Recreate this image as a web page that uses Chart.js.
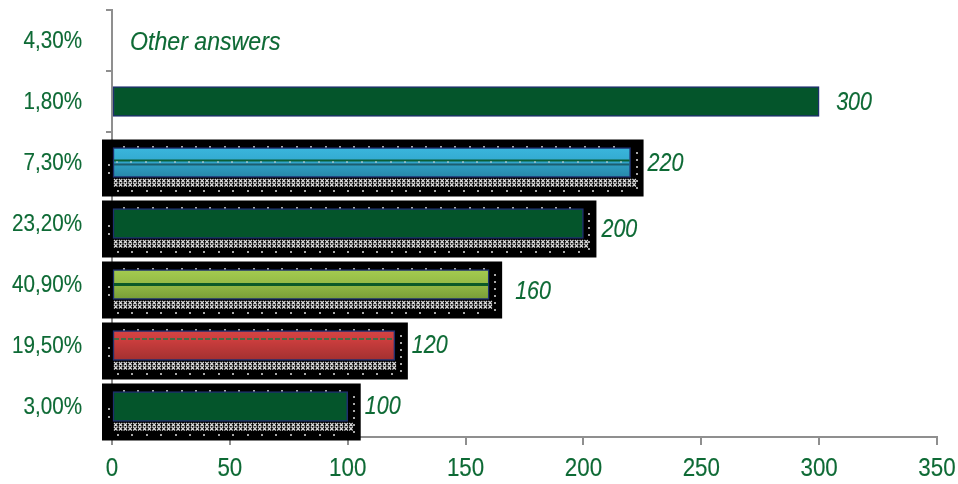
<!DOCTYPE html>
<html>
<head>
<meta charset="utf-8">
<script src="https://cdn.jsdelivr.net/npm/chart.js@4"></script>
<style>
  html, body { margin: 0; padding: 0; background: #ffffff; }
  #wrap { width: 958px; height: 484px; }
</style>
</head>
<body>
<div id="wrap"><canvas id="answers"></canvas></div>
<script>
// answer shares (category axis) and number of answers per share
const categories = ['4,30%', '1,80%', '7,30%', '23,20%', '40,90%', '19,50%', '3,00%'];
const answerCounts = [null, 300, 220, 200, 160, 120, 100];
const otherAnswersText = 'Other answers';
const xMin = 0;
const xMax = 350;
const xStep = 50;

// look of each bar
const barFills = ['green', 'green', 'cyan', 'green', 'lime', 'red', 'green'];
const shadowed = [false, false, true, true, true, true, true];
// small nudges [dx, dy] for the value labels
const labelNudge = [[0, 2], [0, 2], [0, 2], [1, 7], [9, 8], [0, 1], [0, 1]];

const textGreen = '#0e6a35';
const axisGrey = '#8f8f8f';
const baseFont = '"Liberation Sans", Arial, sans-serif';

// condensed text: regular sans squeezed horizontally
function narrowText(c, text, x, y, px, italic, align, squeeze) {
  c.save();
  c.font = (italic ? 'italic ' : '') + px + 'px ' + baseFont;
  c.fillStyle = textGreen;
  c.strokeStyle = textGreen;
  c.lineWidth = 0.15;
  c.textAlign = align;
  c.textBaseline = 'middle';
  c.translate(x, y);
  c.scale(squeeze || 0.86, 1);
  c.fillText(text, 0, 0);
  c.strokeText(text, 0, 0);
  c.restore();
}

function barFill(ctx) {
  const i = ctx.dataIndex;
  if (i === undefined) return '#04552b';
  const kind = barFills[i];
  if (kind === 'green') return '#04552b';
  const chart = ctx.chart;
  const yScale = chart.scales.y;
  if (!yScale) return '#04552b';
  const y = yScale.getPixelForValue(i);
  const g = chart.ctx.createLinearGradient(0, y - 15, 0, y + 15);
  if (kind === 'cyan') {
    g.addColorStop(0, '#3ab6dc');
    g.addColorStop(0.45, '#33aad0');
    g.addColorStop(0.55, '#2f9fc4');
    g.addColorStop(1, '#2787a8');
  } else if (kind === 'lime') {
    g.addColorStop(0, '#a4cb50');
    g.addColorStop(0.5, '#93b945');
    g.addColorStop(1, '#779c37');
  } else {
    g.addColorStop(0, '#d44444');
    g.addColorStop(0.3, '#cc3e3e');
    g.addColorStop(1, '#a23030');
  }
  return g;
}

function dotRow(c, x0, x1, y, step) {
  for (let x = x0; x <= x1; x += step) c.fillRect(Math.round(x), Math.round(y), 2, 2);
}

// black drop boxes with the dotted / crossed texture, stripes and labels
const decorPlugin = {
  id: 'barDecor',
  beforeDatasetsDraw(chart) {
    const c = chart.ctx;
    const meta = chart.getDatasetMeta(0);
    meta.data.forEach((bar, i) => {
      if (!shadowed[i] || answerCounts[i] == null) return;
      const base = bar.base;
      const right = bar.x;
      const top = bar.y - bar.height / 2;
      const bottom = bar.y + bar.height / 2;
      c.save();
      c.fillStyle = '#000000';
      c.fillRect(base - 11, bar.y - 23, right - base + 24, 57);

      c.fillStyle = '#a8a8a8';
      dotRow(c, base + 10, right - 6, top - 2, 14.4);
      dotRow(c, base + 4, right - 2, bottom + 12, 14.4);
      for (let y = bar.y + 1; y <= bottom + 2; y += 8.5) c.fillRect(base - 5, Math.round(y), 2, 2);
      for (let y = top + 4; y <= bottom + 10; y += 7) c.fillRect(Math.round(right + 5), Math.round(y), 2, 2);

      // band of little crosses under the bar
      c.strokeStyle = '#d8d8d8';
      c.lineWidth = 1.2;
      c.beginPath();
      for (let row = 0; row < 2; row++) {
        const y0 = bottom + 1.5 + row * 4;
        for (let x = base + 1; x <= right + 2; x += 4.8) {
          c.moveTo(x, y0); c.lineTo(x + 3.5, y0 + 3.5);
          c.moveTo(x + 3.5, y0); c.lineTo(x, y0 + 3.5);
        }
      }
      c.stroke();
      c.restore();
    });
  },
  afterDatasetsDraw(chart) {
    const c = chart.ctx;
    const meta = chart.getDatasetMeta(0);
    c.save();
    meta.data.forEach((bar, i) => {
      const value = answerCounts[i];
      if (value == null) return;
      const base = bar.base + 1;
      const right = bar.x - 1;
      const kind = barFills[i];
      // middle stripes
      if (kind === 'cyan') {
        c.fillStyle = '#0b5e36';
        c.fillRect(base, bar.y - 3, right - base, 2);
        c.fillStyle = '#1d5e70';
        c.fillRect(base, bar.y + 1, right - base, 2);
        c.fillStyle = '#d9d9d9';
        for (let x = base + 2; x < right; x += 14.4) c.fillRect(Math.round(x), bar.y - 1, 2, 1);
      } else if (kind === 'lime') {
        c.fillStyle = '#0b5a28';
        c.fillRect(base, bar.y - 1.5, right - base, 3);
      } else if (kind === 'red') {
        c.strokeStyle = '#1f7a45';
        c.lineWidth = 1.5;
        c.setLineDash([5, 2]);
        c.beginPath();
        c.moveTo(base, bar.y - 6.5);
        c.lineTo(right, bar.y - 6.5);
        c.stroke();
        c.setLineDash([]);
      }
      const [dx, dy] = labelNudge[i];
      narrowText(c, String(value), bar.x + 17 + dx, bar.y + dy, 25, true, 'left', 0.86);
    });
    const y0 = chart.scales.y.getPixelForValue(0);
    narrowText(c, otherAnswersText, chart.scales.x.getPixelForValue(xMin) + 18, y0 + 2, 26, true, 'left', 0.89);
    c.restore();
  },
  afterDraw(chart) {
    const c = chart.ctx;
    const ys = chart.scales.y;
    const xs = chart.scales.x;
    ys.ticks.forEach((t, i) => {
      narrowText(c, categories[i], ys.right - 30, ys.getPixelForTick(i) + 1, 24, false, 'right', 0.86);
    });
    xs.ticks.forEach((t) => {
      narrowText(c, String(t.value), xs.getPixelForValue(t.value), xs.top + 32, 26, false, 'center', 0.86);
    });
  }
};

new Chart(document.getElementById('answers'), {
  type: 'bar',
  data: {
    labels: categories,
    datasets: [{
      data: answerCounts,
      backgroundColor: barFill,
      borderColor: '#1e2f6f',
      borderWidth: 1.5,
      borderSkipped: false,
      barThickness: 30
    }]
  },
  options: {
    indexAxis: 'y',
    responsive: true,
    maintainAspectRatio: false,
    animation: false,
    layout: { padding: { top: 10, right: 21, left: 0, bottom: 0 } },
    plugins: {
      legend: { display: false },
      tooltip: { enabled: false }
    },
    scales: {
      y: {
        z: 1,
        afterFit(scale) {
          scale.width = 112;
          scale.paddingTop = 0;
          scale.paddingBottom = 0;
        },
        grid: {
          drawOnChartArea: false,
          drawTicks: true,
          tickLength: 6,
          color: axisGrey,
          lineWidth: 2
        },
        border: { display: true, color: axisGrey, width: 2 },
        ticks: { display: false }
      },
      x: {
        min: xMin,
        max: xMax,
        afterFit(scale) {
          scale.height = 47;
          scale.paddingLeft = 0;
          scale.paddingRight = 0;
        },
        grid: {
          drawOnChartArea: false,
          drawTicks: true,
          tickLength: 8,
          color: axisGrey,
          lineWidth: 2
        },
        border: { display: true, color: axisGrey, width: 2 },
        ticks: { display: false, stepSize: xStep }
      }
    }
  },
  plugins: [decorPlugin]
});
</script>
</body>
</html>
